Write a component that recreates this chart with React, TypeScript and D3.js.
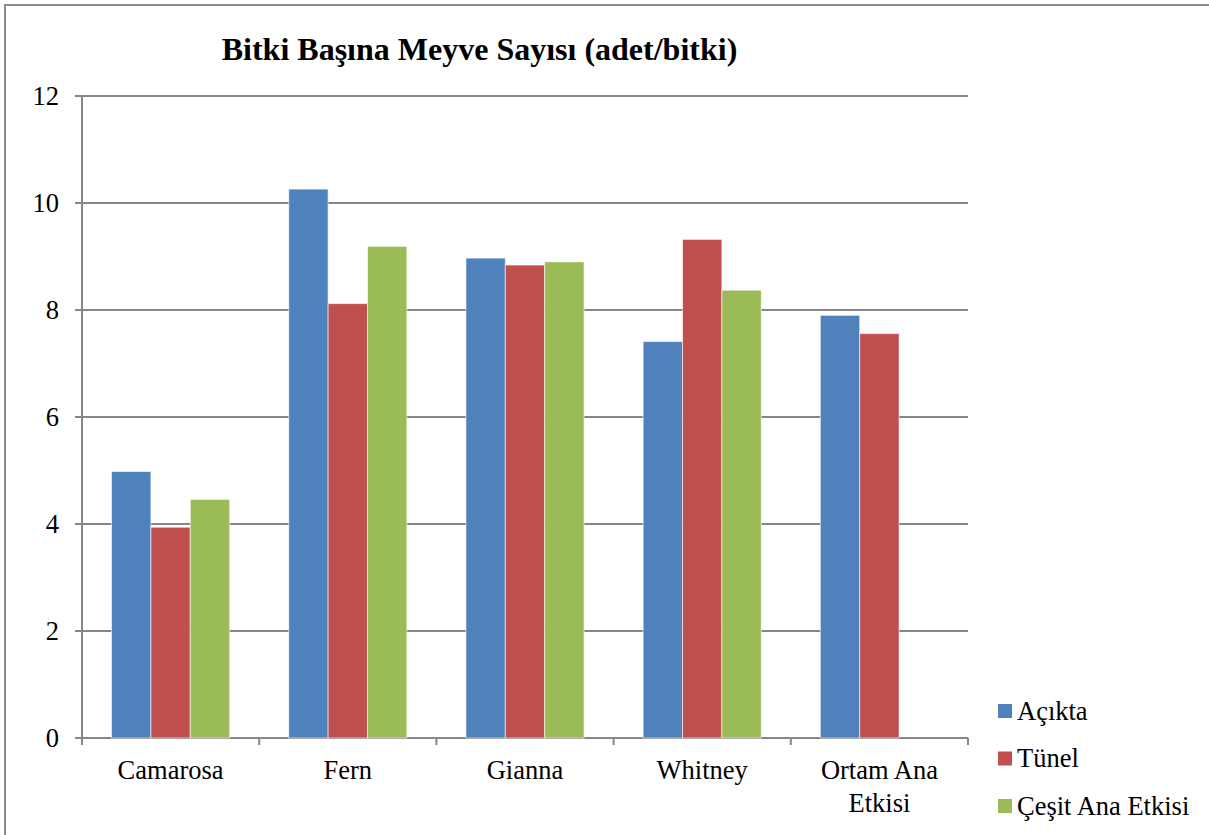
import React from "react";
import * as d3 from "d3";

const categories: string[][] = [["Camarosa"], ["Fern"], ["Gianna"], ["Whitney"], ["Ortam Ana", "Etkisi"]];
const seriesNames = ["Açıkta", "Tünel", "Çeşit Ana Etkisi"];
const acikta = [4.98, 10.26, 8.97, 7.41, 7.9];
const tunel = [3.94, 8.12, 8.84, 9.32, 7.56];
const cesitAnaEtkisi: (number | null)[] = [4.46, 9.19, 8.9, 8.37, null];
const yTicks = [0, 2, 4, 6, 8, 10, 12];
const colors = ["#4F81BD", "#C0504D", "#9BBB59"];
const title = "Bitki Başına Meyve Sayısı (adet/bitki)";

const W = 1209;
const H = 835;
const plot = { left: 82, right: 968, top: 96, bottom: 738 };
const fontStyle = { fontFamily: '"Liberation Serif", "Times New Roman", Tinos, serif' };

export default function App() {
  const series = [acikta, tunel, cesitAnaEtkisi];
  const keys = categories.map((c) => c.join(" "));
  const x0 = d3.scaleBand<string>().domain(keys).range([plot.left, plot.right]).paddingInner(0).paddingOuter(0);
  const groupW = x0.bandwidth();
  const barW = groupW / 4.5;
  const x1 = d3
    .scaleBand<number>()
    .domain([0, 1, 2])
    .range([(groupW - 3 * barW) / 2, (groupW + 3 * barW) / 2]);
  const y = d3.scaleLinear().domain([0, 12]).range([plot.bottom, plot.top]);
  const gridColor = "#868686";

  return (
    <svg width={W} height={H} style={{ position: "absolute", left: 0, top: 0, background: "#fff", ...fontStyle }}>
      <rect x={5} y={5} width={W} height={H} fill="#fff" stroke="#8c8c8c" strokeWidth={2} />
      <text x={479.5} y={60} textAnchor="middle" style={fontStyle} fontWeight="bold" fontSize={32}>
        {title}
      </text>
      {/* gridlines and y ticks */}
      {yTicks.map((t) => (
        <g key={t}>
          <line x1={plot.left - 7} x2={plot.right} y1={y(t)} y2={y(t)} stroke={gridColor} strokeWidth={2} />
          <text x={59} y={y(t)} dy="0.33em" textAnchor="end" style={fontStyle} fontSize={26.5}>
            {t}
          </text>
        </g>
      ))}
      <line x1={plot.left} x2={plot.left} y1={plot.top} y2={plot.bottom} stroke={gridColor} strokeWidth={2} />
      {/* category boundary ticks */}
      {[...keys.map((k) => x0(k) as number), plot.right].map((xv, i) => (
        <line key={i} x1={xv} x2={xv} y1={plot.bottom} y2={plot.bottom + 7} stroke={gridColor} strokeWidth={2} />
      ))}
      {/* bars */}
      {keys.map((k, ci) => (
        <g key={k} transform={`translate(${x0(k)},0)`}>
          {series.map((s, si) => {
            const v = s[ci];
            if (v == null) return null;
            return (
              <rect
                key={si}
                x={x1(si)}
                y={y(v)}
                width={x1.bandwidth()}
                height={y(0) - y(v)}
                fill={colors[si]}
                stroke="#ffffff"
                strokeOpacity={0.6}
                strokeWidth={1}
              />
            );
          })}
        </g>
      ))}
      {/* category labels */}
      {categories.map((lines, ci) => (
        <text
          key={ci}
          x={(x0(keys[ci]) as number) + groupW / 2}
          y={779}
          textAnchor="middle"
          style={fontStyle}
          fontSize={26.5}
        >
          {lines.map((ln, li) => (
            <tspan key={li} x={(x0(keys[ci]) as number) + groupW / 2} dy={li === 0 ? 0 : 33}>
              {ln}
            </tspan>
          ))}
        </text>
      ))}
      {/* legend */}
      {seriesNames.map((n, i) => (
        <g key={n} transform={`translate(998,${711 + i * 47.5})`}>
          <rect x={0} y={-7} width={14} height={14} fill={colors[i]} />
          <text x={19} y={0} dy="0.33em" style={fontStyle} fontSize={26.5}>
            {n}
          </text>
        </g>
      ))}
    </svg>
  );
}
